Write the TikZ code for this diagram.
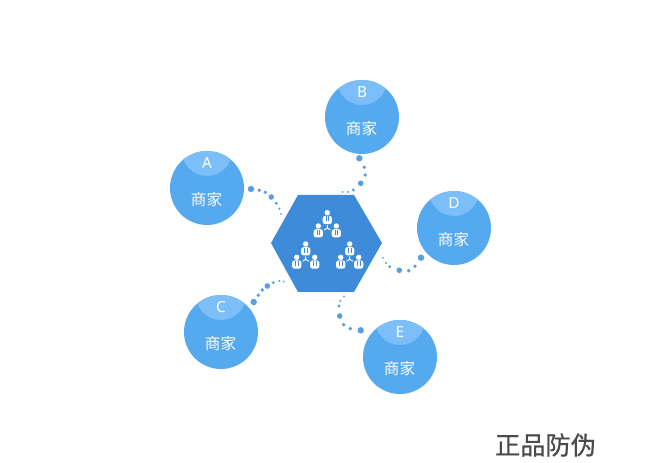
\documentclass[tikz,border=0pt]{standalone}
\usepackage{fontspec}
\newfontfamily\cjkf{Noto Sans CJK SC}
\newfontfamily\cjkt[FakeBold=0.6]{Noto Sans CJK SC}
\newfontfamily\latf{Noto Sans}
\definecolor{circ}{HTML}{55A9EE}
\definecolor{capc}{HTML}{7CBEF8}
\definecolor{hexc}{HTML}{3D8BD9}
\definecolor{dotc}{HTML}{559FE2}
\definecolor{titlec}{HTML}{4A4A4A}
\tikzset{
  ball/.style={circle,fill=circ,minimum size=74*0.75pt,inner sep=0pt,draw=none},
  lett/.style={text=white,font=\latf\fontsize{11.5}{12}\selectfont,inner sep=0pt},
  shop/.style={text=white,font=\cjkf\fontsize{11.7}{12}\selectfont,inner sep=0pt},
  dotp/.style={fill=dotc},
  wire/.style={draw=white,line width=0.7pt}
}
\newcommand{\merchant}[4]{% name, x, y, letter
  \node[ball] (#1) at (#2,#3) {};
  \begin{scope}
    \clip (#2,#3) circle[radius=37];
    \fill[capc] (#2,#3-37) circle[radius=25];
  \end{scope}
  \node[lett] (#1l) at (#2,#3-25) {#4};
  \node[shop] (#1s) at (#2-0.5,#3+11.5) {商家};
}
\newcommand{\person}[2]{%
  \fill[white] (#1,#2-5.8) circle[radius=2.7];
  \fill[white,rounded corners=1.8pt] (#1-4.6,#2-2.6) rectangle (#1+4.6,#2+5.6);
  \draw[hexc,line width=0.5pt] (#1-1.4,#2-2.2) -- (#1-1.4,#2+2.8) (#1+1.4,#2-2.2) -- (#1+1.4,#2+2.8);
}
\newcommand{\trio}[2]{% junction x,y
  \person{#1}{#2-9.5}
  \person{#1-9}{#2+3.8}
  \person{#1+9}{#2+3.8}
  \draw[wire] (#1,#2-2.8) -- (#1,#2) -- (#1-3.2,#2+2) (#1,#2) -- (#1+3.2,#2+2);
}
\newcommand{\chain}[1]{\foreach \x/\y/\r in {#1} \fill[dotp] (\x,\y) circle[radius=\r];}
\begin{document}
\begin{tikzpicture}[x=0.75pt,y=-0.75pt]
\useasboundingbox (0,0) rectangle (662,463);
\fill[white] (0,0) rectangle (662,463);
\merchant{A}{207}{188}{A}
\merchant{B}{362}{117}{B}
\merchant{C}{221}{332}{C}
\merchant{D}{454}{228}{D}
\merchant{E}{400}{357}{E}
\fill[hexc] (298,195) -- (354,195) -- (382,243) -- (354,292) -- (298,292) -- (271,243) -- cycle;
\trio{327.3}{228}
\trio{305.7}{259.3}
\trio{349.7}{259.3}
\chain{251/189/3.2, 259.3/190.3/1.9, 265.3/192.3/1.9, 271.3/197/2.8, 276.3/203.3/1.6, 279.3/208.7/1.2, 281/214/1}
\chain{359.3/158.3/3.2, 364.3/167.3/1.9, 365.3/175/1.9, 360.7/183.3/2.8, 353.3/190/1.6, 348/192/1.2, 342.7/192/1}
\chain{253.7/302/3.2, 258.3/295.3/1.9, 262.3/290/1.9, 267.3/286/2.8, 273.3/282.7/1.6, 279.3/281/1.2, 283.7/281.7/1}
\chain{421/257.7/3.2, 415/266.3/1.9, 408.7/270.7/1.9, 399.3/270.3/2.8, 389.7/266.7/1.6, 386/263/1.2, 383/258/1}
\chain{360.7/330.3/3.2, 350.3/328.7/1.9, 343.7/324.7/1.9, 339.7/316/2.8, 339/306/1.6, 340.3/301/1.2, 344/296.3/1}
\node[text=titlec,font=\cjkt\fontsize{18.9}{19}\selectfont,inner sep=0pt] (title) at (545.5,445) {正品防伪};
\end{tikzpicture}
\end{document}
